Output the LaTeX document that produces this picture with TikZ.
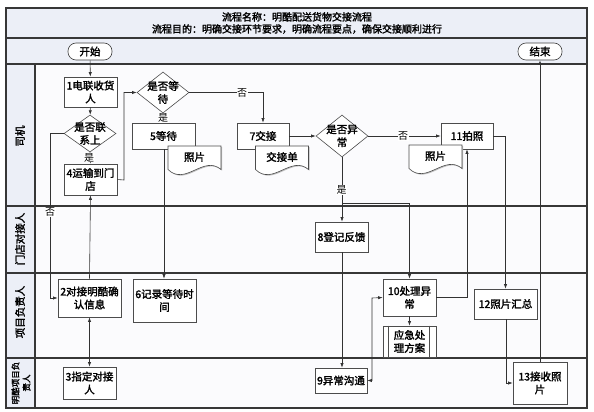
\documentclass[tikz,border=0pt]{standalone}
\usepackage{fontspec}
\setmainfont{Noto Sans CJK SC}[AutoFakeBold=2]
\usetikzlibrary{arrows.meta,shapes.geometric,shadows}
\definecolor{hdr}{RGB}{236,239,247}
\definecolor{lanebg}{RGB}{251,251,253}
\definecolor{framec}{RGB}{55,55,55}
\definecolor{linec}{RGB}{50,50,50}
\begin{document}
\begin{tikzpicture}[x=1pt,y=-1pt,
  font=\fontsize{10.5}{13}\selectfont\bfseries,
  box/.style={draw=black!70, fill=white, line width=0.6pt, align=center, inner sep=1pt,
    drop shadow={shadow xshift=1pt,shadow yshift=-1pt,fill=black!25,opacity=1}},
  term/.style={draw=black!75, fill=white, line width=0.6pt, rounded corners=8pt, inner sep=1pt,
    minimum width=44pt, minimum height=17pt},
  dia/.style={draw=black!70, fill=white, line width=0.6pt, shape=diamond, inner sep=0pt},
  lbl/.style={fill=white, inner sep=0.5pt, font=\fontsize{10}{12}\selectfont},
  conn/.style={draw=linec, line width=0.6pt, -{Latex[length=4.5pt,width=3.2pt]}},
  dconn/.style={draw=linec, line width=0.6pt, {Latex[length=4.5pt,width=3.2pt]}-{Latex[length=4.5pt,width=3.2pt]}},
  lane/.style={font=\fontsize{10.5}{13}\selectfont\bfseries, rotate=90, align=center},
  docpic/.pic={
    \draw[draw=black!70, fill=white, line width=0.6pt, drop shadow={shadow xshift=1pt,shadow yshift=-1pt,fill=black!25,opacity=1}]
      (-26.5,-14.5) -- (26.5,-14.5) -- (26.5,9) .. controls (9,-6) and (-9,26) .. (-26.5,9) -- cycle;
  }
]
\useasboundingbox (0,0) rectangle (594,412);
% backgrounds
\fill[hdr] (6,8) rectangle (587,64);
\fill[hdr] (6,64) rectangle (35,408);
\fill[lanebg] (35,64) rectangle (587,408);
% frame and lanes
\draw[framec, line width=1.2pt] (6,8) rectangle (587,408);
\foreach \yy in {38,64,206,273,358} \draw[framec, line width=1.2pt] (6,\yy) -- (587,\yy);
\draw[framec, line width=1.2pt] (35,64) -- (35,408);
% title
\node[align=center, font=\fontsize{10}{12}\selectfont\bfseries] (title) at (297,23)
  {流程名称：明酷配送货物交接流程\\流程目的：明确交接环节要求，明确流程要点，确保交接顺利进行};
% lane labels
\node[lane] (l1) at (20,136) {司机};
\node[lane] (l2) at (20,239) {门店对接人};
\node[lane] (l3) at (20,312) {项目负责人};
\node[lane, font=\fontsize{8.5}{11}\selectfont\bfseries] (l4) at (21,383) {明酷项目负\\责人};
% terminals
\node[term] (start) at (90,51.5) {开始};
\node[term] (end) at (540,51.5) {结束};
% process boxes
\node[box, minimum width=53pt, minimum height=30pt] (n1) at (90.5,92) {1电联收货\\人};
\node[dia, minimum width=52pt, minimum height=37pt] (d1) at (90,133.5) {};
\node[align=center] (d1t) at (d1) {是否联\\系上};
\node[box, minimum width=53pt, minimum height=31pt] (n4) at (90.5,179.5) {4运输到门\\店};
\node[dia, minimum width=52pt, minimum height=41pt] (d2) at (163,92.5) {};
\node[align=center] (d2t) at (d2) {是否等\\待};
\node[box, minimum width=63pt, minimum height=26pt] (n5) at (163.5,136) {5等待};
\node[box, minimum width=52pt, minimum height=26pt] (n7) at (263,136) {7交接};
\node[dia, minimum width=52pt, minimum height=42pt] (d3) at (342,136) {};
\node[align=center] (d3t) at (d3) {是否异\\常};
\node[box, minimum width=52pt, minimum height=26pt] (n11) at (467,136) {11拍照};
\node[box, minimum width=53pt, minimum height=30pt] (n8) at (341.5,237) {8登记反馈};
\node[box, minimum width=63pt, minimum height=38pt] (n2) at (89.5,298) {2对接明酷确\\认信息};
\node[box, minimum width=63pt, minimum height=43pt] (n6) at (164.5,300.5) {6记录等待时\\间};
\node[box, minimum width=53pt, minimum height=37pt] (n10) at (409.5,297.5) {10处理异\\常};
\node[box, minimum width=53pt, minimum height=31pt] (em) at (409.5,341.5) {应急处\\理方案};
\draw[black!70, line width=0.6pt] ([xshift=6pt]em.north west) -- ([xshift=6pt]em.south west)
  ([xshift=-7pt]em.north east) -- ([xshift=-7pt]em.south east);
\node[box, minimum width=63pt, minimum height=30pt] (n12) at (505.5,304) {12照片汇总};
\node[box, minimum width=53pt, minimum height=32pt] (n3) at (89.5,383) {3指定对接\\人};
\node[box, minimum width=52pt, minimum height=25pt] (n9) at (341,380.5) {9异常沟通};
\node[box, minimum width=54pt, minimum height=42pt] (n13) at (540,383) {13接收照\\片};
% documents
\pic at (194.5,160.5) {docpic};
\node (p5) at (194.5,157) {照片};
\pic at (282,160.5) {docpic};
\node (p7) at (282,157) {交接单};
\pic at (435.5,159.5) {docpic};
\node (p11) at (435.5,156) {照片};
% helper coordinates
\coordinate (a1) at (50,133.5);
\coordinate (a2) at (50,298);
\coordinate (b1) at (124,180);
\coordinate (b2) at (124,92.5);
\coordinate (c1) at (263,92.5);
\coordinate (e1) at (342,203);
\coordinate (e2) at (409.5,203);
\coordinate (f1) at (372,380.5);
\coordinate (f2) at (372,298);
\coordinate (g1) at (467,297.5);
\coordinate (h1) at (505.5,136);
\coordinate (k1) at (506,383);
% connectors
\draw[conn] (start) -- (n1);
\draw[conn] (n1) -- (d1);
\draw[conn] (d1.south) -- (n4.north);
\node[lbl] (y1) at (89,157.5) {是};
\draw[conn] (d1.west) -- (a1) -- (a2) -- (n2.west);
\node[lbl] (no1) at (50,212) {否};
\draw[conn] (n2.north) -- (n4.south);
\draw[dconn] (n2.south) -- (n3.north);
\draw[conn] (n4.east) -- (b1) -- (b2) -- (d2.west);
\draw[conn] (d2.east) -- (c1) -- (n7.north);
\node[lbl] (no2) at (242,92.5) {否};
\draw[conn] (d2.south) -- (n5.north);
\node[lbl] (y2) at (163,118) {是};
\draw[conn] (164,149) -- (n6.north -| 164,0);
\draw[conn] (n7.east) -- (d3.west);
\draw[conn] (d3.east) -- (n11.west);
\node[lbl] (no3) at (403,136) {否};
\draw[conn] (d3.south) -- (n8.north -| d3.south);
\node[lbl] (y3) at (341.5,190) {是};
\draw[conn] (e1) -- (e2) -- (n10.north);
\draw[conn] (n8.south -| d3.south) -- (n9.north -| d3.south);
\draw[dconn] (n9.east) -- (f1) -- (f2) -- (n10.west);
\draw[conn] (n10.east) -- (g1) -- (n11.south -| g1);
\draw[conn] (n10.south) -- (em.north);
\draw[conn] (n11.east) -- (h1) -- (n12.north);
\draw[conn] (n12.south -| k1) -- (k1) -- (n13.west);
\draw[conn] (n13.north) -- (end.south);
\end{tikzpicture}
\end{document}
